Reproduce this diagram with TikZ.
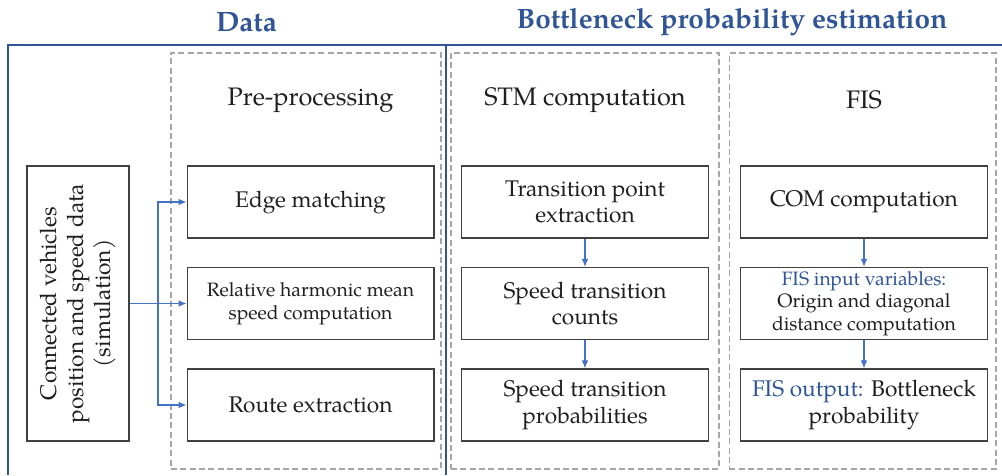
\documentclass[tikz,border=0pt]{standalone}
\usepackage{fontspec}
\setmainfont{TeX Gyre Pagella}
\usepackage{tikz}
\usetikzlibrary{arrows.meta}
\definecolor{frameblue}{HTML}{2F5597}
\definecolor{arrblue}{HTML}{4472C4}
\definecolor{dashgrey}{HTML}{A6A6A6}
\definecolor{txt}{HTML}{1F1F1F}
\definecolor{boxline}{HTML}{404040}

\begin{document}
\begin{tikzpicture}[x=0.75pt,y=-0.75pt,
    box/.style={draw=boxline,line width=1pt,minimum width=185pt,minimum height=54pt,
      align=center,text=txt,inner sep=2pt,font=\fontsize{17}{20}\selectfont},
    small/.style={font=\fontsize{14.5}{17}\selectfont},
    group/.style={draw=dashgrey,line width=1pt,dash pattern=on 4.5pt off 2.5pt,
      minimum width=201pt,minimum height=312pt},
    head/.style={text=txt,font=\fontsize{19}{22}\selectfont},
    title/.style={text=frameblue,font=\bfseries\fontsize{21}{25}\selectfont},
    frame/.style={draw=frameblue,line width=2.2pt},
    arr/.style={draw=arrblue,line width=0.8pt,-{Latex[length=6pt,width=5pt]}}]
  \useasboundingbox (0,0) rectangle (1002,475);

  % frames and titles
  \draw[frame] (8,475) -- (8,45) -- (1002,45);
  \draw[frame] (446,45) -- (446,475);
  \node[title] (T1) at (246.5,22) {Data};
  \node[title] (T2) at (732,22) {Bottleneck probability estimation};

  % dashed groups
  \node[group,minimum width=202.5pt] (G1) at (306,261) {};
  \node[group] (G2) at (585,261) {};
  \node[group,minimum width=200pt] (G3) at (862.5,261) {};
  \node[head] (H1) at (310.5,100) {Pre-processing};
  \node[head] (H2) at (585,100) {STM computation};
  \node[head] (H3) at (864,100) {FIS};

  % input
  \node[box,minimum width=76.5pt,minimum height=206.25pt] (S) at (78,303.5) {};
  \node[rotate=90,align=center,text=txt,font=\fontsize{17}{20}\selectfont] (St) at (S)
    {Connected vehicles\\position and speed data\\(simulation)};

  % pre-processing
  \node[box] (P1) at (310.5,202) {Edge matching};
  \node[box,small] (P2) at (310.5,303.5) {Relative harmonic mean\\speed computation};
  \node[box] (P3) at (310.5,405) {Route extraction};

  % STM
  \node[box] (M1) at (585,202) {Transition point\\extraction};
  \node[box] (M2) at (585,303.5) {Speed transition\\counts};
  \node[box] (M3) at (585,405) {Speed transition\\probabilities};

  % FIS
  \node[box] (F1) at (864,202) {COM computation};
  \node[box,small] (F2) at (864,303.5)
    {\textcolor{frameblue}{FIS input variables:}\\Origin and diagonal\\distance computation};
  \node[box] (F3) at (864,405) {\textcolor{frameblue}{FIS output:} Bottleneck\\probability};

  \coordinate (J) at (158,303.5);
  \draw[arr] (S.east) -- (P2.west);
  \draw[arr] (J) |- (P1.west);
  \draw[arr] (J) |- (P3.west);
  \draw[arr] (M1) -- (M2);
  \draw[arr] (M2) -- (M3);
  \draw[arr] (F1) -- (F2);
  \draw[arr] (F2) -- (F3);
\end{tikzpicture}
\end{document}
